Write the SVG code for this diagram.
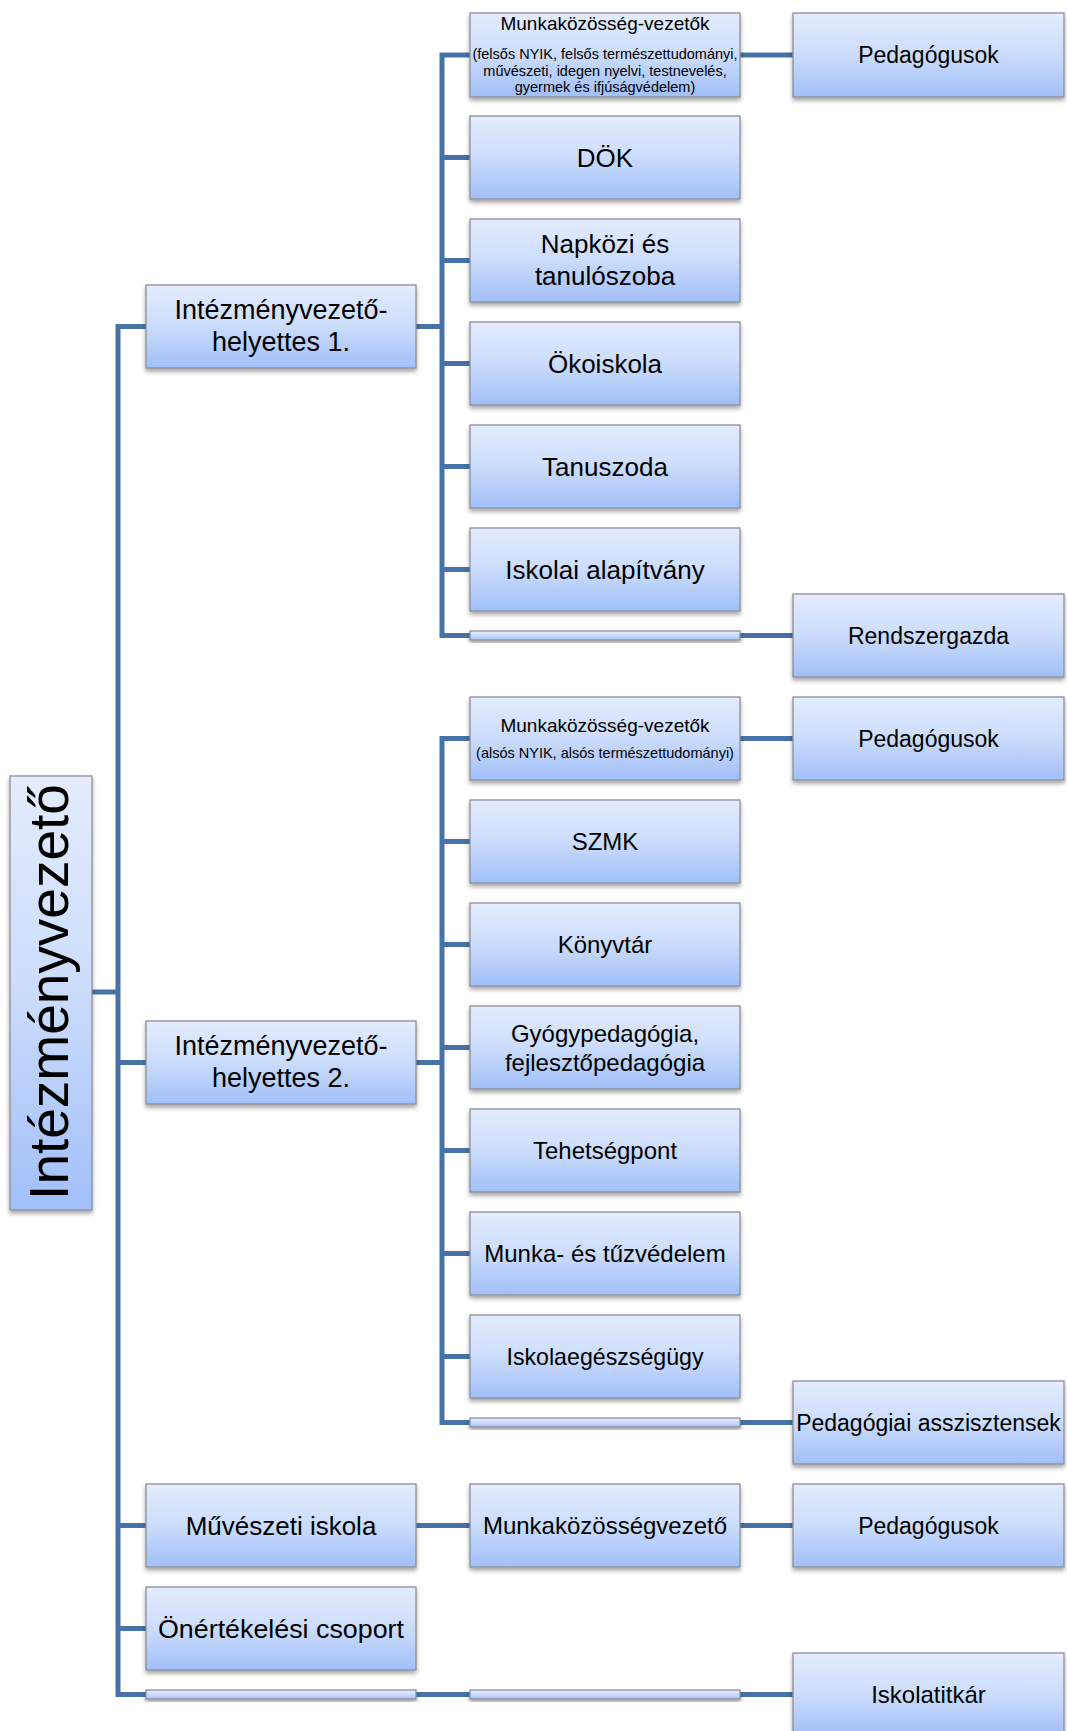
<svg xmlns="http://www.w3.org/2000/svg" width="1067" height="1731" viewBox="0 0 1067 1731">
<defs>
<linearGradient id="g" x1="0" y1="0" x2="0" y2="1">
<stop offset="0" stop-color="#e4ecfd"/>
<stop offset="0.5" stop-color="#cbdcfb"/>
<stop offset="1" stop-color="#a1bff9"/>
</linearGradient>
<filter id="sh" x="-10%" y="-20%" width="120%" height="150%">
<feDropShadow dx="0" dy="3" stdDeviation="2.2" flood-color="#000" flood-opacity="0.35"/>
</filter>
</defs>
<style>
.box{fill:url(#g);stroke:#8c8f96;stroke-width:1.3;filter:url(#sh)}
.c{fill:none;stroke:#4672a8;stroke-width:5;stroke-linejoin:miter;stroke-linecap:butt}
text{font-family:"Liberation Sans",Arial,sans-serif;fill:#000;text-anchor:middle}
.a{font-size:26px}
.h{font-size:27px}
.b{font-size:24px}
.d{font-size:23px}
.m{font-size:19px}
.s{font-size:14.5px}
.big{font-size:55px}
</style>
<g id="connectors">
<path class="c" d="M146,326.5 H118 V1694.5 H146"/>
<path class="c" d="M92,992 H118"/>
<path class="c" d="M118,1062.5 H146"/>
<path class="c" d="M118,1525.5 H146"/>
<path class="c" d="M118,1628.5 H146"/>
<path class="c" d="M416,326.5 H442"/>
<path class="c" d="M470,55 H442 V635.5 H470"/>
<path class="c" d="M442,157.5 H470 M442,260.5 H470 M442,363.5 H470 M442,466.5 H470 M442,569.5 H470"/>
<path class="c" d="M740,55 H793"/>
<path class="c" d="M740,635.5 H793"/>
<path class="c" d="M416,1062.5 H442"/>
<path class="c" d="M470,738.5 H442 V1422.5 H470"/>
<path class="c" d="M442,841.5 H470 M442,944.5 H470 M442,1047.5 H470 M442,1150.5 H470 M442,1253.5 H470 M442,1356.5 H470"/>
<path class="c" d="M740,738.5 H793"/>
<path class="c" d="M740,1422.5 H793"/>
<path class="c" d="M416,1525.5 H470 M740,1525.5 H793"/>
<path class="c" d="M416,1694.5 H470 M740,1694.5 H793"/>
</g>
<g id="n-intezmenyvezeto">
<rect class="box" x="10" y="776" width="82" height="434"/>
<text class="big" transform="translate(68,992) rotate(-90)" x="0" y="0">Intézményvezető</text>
</g>
<g id="n-ivh1">
<rect class="box" x="146" y="285" width="270" height="83"/>
<text class="h" x="281" y="319">Intézményvezető-</text>
<text class="h" x="281" y="351">helyettes 1.</text>
</g>
<g id="n-ivh2">
<rect class="box" x="146" y="1021" width="270" height="83"/>
<text class="h" x="281" y="1055">Intézményvezető-</text>
<text class="h" x="281" y="1087">helyettes 2.</text>
</g>
<g id="n-muveszeti">
<rect class="box" x="146" y="1484" width="270" height="83"/>
<text class="a" x="281" y="1534.5">Művészeti iskola</text>
</g>
<g id="n-onertekelesi">
<rect class="box" x="146" y="1587" width="270" height="83"/>
<text class="a" x="281" y="1637.5" textLength="246" lengthAdjust="spacingAndGlyphs">Önértékelési csoport</text>
</g>
<g id="n-bar1">
<rect class="box" x="146" y="1690" width="270" height="9"/>
</g>
<g id="n-mk1">
<rect class="box" x="470" y="13" width="270" height="84"/>
<text class="m" x="605" y="30">Munkaközösség-vezetők</text>
<text class="s" x="605" y="59">(felsős NYIK, felsős természettudományi,</text>
<text class="s" x="605" y="75.5">művészeti, idegen nyelvi, testnevelés,</text>
<text class="s" x="605" y="92">gyermek és ifjúságvédelem)</text>
</g>
<g id="n-dok">
<rect class="box" x="470" y="116" width="270" height="83"/>
<text class="a" x="605" y="167">DÖK</text>
</g>
<g id="n-napkozi">
<rect class="box" x="470" y="219" width="270" height="83"/>
<text class="a" x="605" y="252.5">Napközi és</text>
<text class="a" x="605" y="284.5">tanulószoba</text>
</g>
<g id="n-okoiskola">
<rect class="box" x="470" y="322" width="270" height="83"/>
<text class="a" x="605" y="372.5">Ökoiskola</text>
</g>
<g id="n-tanuszoda">
<rect class="box" x="470" y="425" width="270" height="83"/>
<text class="a" x="605" y="475.5">Tanuszoda</text>
</g>
<g id="n-alapitvany">
<rect class="box" x="470" y="528" width="270" height="83"/>
<text class="a" x="605" y="578.5">Iskolai alapítvány</text>
</g>
<g id="n-bar2">
<rect class="box" x="470" y="631" width="270" height="9"/>
</g>
<g id="n-mk2">
<rect class="box" x="470" y="697" width="270" height="83"/>
<text class="m" x="605" y="732">Munkaközösség-vezetők</text>
<text class="s" x="605" y="758">(alsós NYIK, alsós természettudományi)</text>
</g>
<g id="n-szmk">
<rect class="box" x="470" y="800" width="270" height="83"/>
<text class="b" x="605" y="850">SZMK</text>
</g>
<g id="n-konyvtar">
<rect class="box" x="470" y="903" width="270" height="83"/>
<text class="b" x="605" y="953">Könyvtár</text>
</g>
<g id="n-gyogypedagogia">
<rect class="box" x="470" y="1006" width="270" height="83"/>
<text class="b" x="605" y="1042">Gyógypedagógia,</text>
<text class="b" x="605" y="1071">fejlesztőpedagógia</text>
</g>
<g id="n-tehetsegpont">
<rect class="box" x="470" y="1109" width="270" height="83"/>
<text class="b" x="605" y="1159">Tehetségpont</text>
</g>
<g id="n-munkavedelem">
<rect class="box" x="470" y="1212" width="270" height="83"/>
<text class="b" x="605" y="1262">Munka- és tűzvédelem</text>
</g>
<g id="n-iskolaegeszsegugy">
<rect class="box" x="470" y="1315" width="270" height="83"/>
<text class="b" x="605" y="1365" textLength="197" lengthAdjust="spacingAndGlyphs">Iskolaegészségügy</text>
</g>
<g id="n-bar3">
<rect class="box" x="470" y="1418" width="270" height="9"/>
</g>
<g id="n-mkv">
<rect class="box" x="470" y="1484" width="270" height="83"/>
<text class="b" x="605" y="1534">Munkaközösségvezető</text>
</g>
<g id="n-bar4">
<rect class="box" x="470" y="1690" width="270" height="9"/>
</g>
<g id="n-ped1">
<rect class="box" x="793" y="13" width="271" height="84"/>
<text class="d" x="928.5" y="63">Pedagógusok</text>
</g>
<g id="n-rendszergazda">
<rect class="box" x="793" y="594" width="271" height="83"/>
<text class="d" x="928.5" y="643.5">Rendszergazda</text>
</g>
<g id="n-ped2">
<rect class="box" x="793" y="697" width="271" height="83"/>
<text class="d" x="928.5" y="746.5">Pedagógusok</text>
</g>
<g id="n-pedasszisztens">
<rect class="box" x="793" y="1381" width="271" height="83"/>
<text class="d" x="928.5" y="1430.5">Pedagógiai asszisztensek</text>
</g>
<g id="n-ped3">
<rect class="box" x="793" y="1484" width="271" height="83"/>
<text class="d" x="928.5" y="1533.5">Pedagógusok</text>
</g>
<g id="n-iskolatitkar">
<rect class="box" x="793" y="1653" width="271" height="83"/>
<text class="b" x="928.5" y="1702.5">Iskolatitkár</text>
</g>
</svg>
